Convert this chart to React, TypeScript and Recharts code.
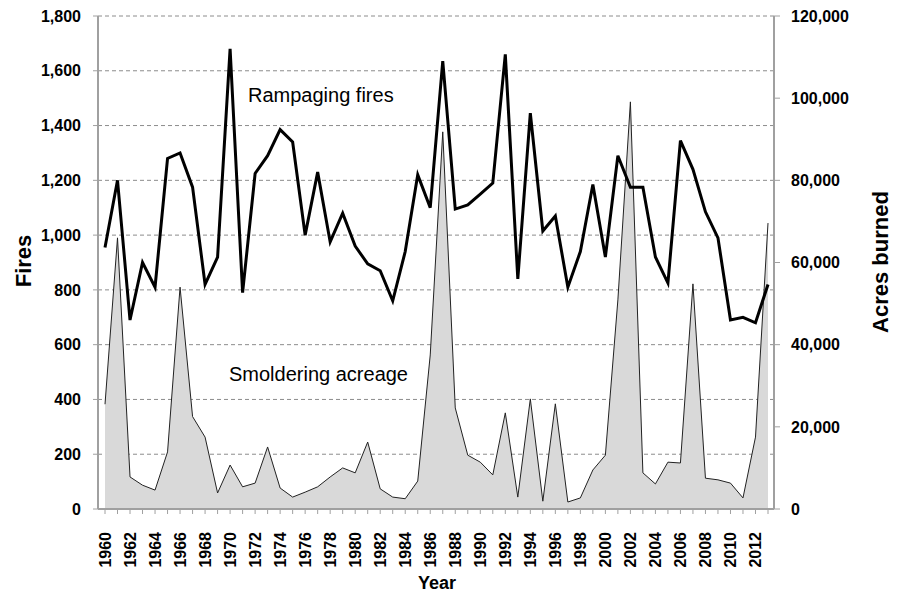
import { ComposedChart, Line, Area, XAxis, YAxis, CartesianGrid } from 'recharts';

const years = [
  1960, 1961, 1962, 1963, 1964, 1965, 1966, 1967, 1968, 1969,
  1970, 1971, 1972, 1973, 1974, 1975, 1976, 1977, 1978, 1979,
  1980, 1981, 1982, 1983, 1984, 1985, 1986, 1987, 1988, 1989,
  1990, 1991, 1992, 1993, 1994, 1995, 1996, 1997, 1998, 1999,
  2000, 2001, 2002, 2003, 2004, 2005, 2006, 2007, 2008, 2009,
  2010, 2011, 2012, 2013,
];

const fires = [
  955, 1200, 690, 900, 810, 1280, 1300, 1175, 820, 920,
  1680, 790, 1225, 1290, 1385, 1340, 1000, 1230, 975, 1080,
  960, 895, 870, 760, 940, 1220, 1100, 1635, 1095, 1110,
  1150, 1190, 1660, 840, 1445, 1015, 1070, 810, 940, 1185,
  920, 1290, 1175, 1175, 920, 825, 1345, 1240, 1085, 990,
  690, 700, 680, 820,
];

const acres = [
  25500, 66000, 7800, 5800, 4600, 13900, 54000, 22500, 17500, 3900,
  10700, 5400, 6300, 15100, 5100, 2900, 4100, 5400, 7800, 10000,
  8800, 16300, 4900, 2900, 2500, 6800, 37500, 91800, 24600, 13100,
  11400, 8300, 23400, 2900, 26800, 1900, 25600, 1700, 2700, 9500,
  13100, 50900, 99100, 8800, 6100, 11400, 11200, 54800, 7500, 7100,
  6300, 2700, 17500, 69600,
];

const fireTicks = [0, 200, 400, 600, 800, 1000, 1200, 1400, 1600, 1800];
const acreTicks = [0, 20000, 40000, 60000, 80000, 100000, 120000];

const data = years.map((y, i) => ({ year: y, fires: fires[i], acres: acres[i] }));

const fmt = (v: number) => v.toLocaleString('en-US');
const font = '"Liberation Sans", Arial, sans-serif';

function YearTick({ x, y, payload }: any) {
  const yr = payload.value as number;
  return (
    <g transform={`translate(${x},${y})`}>
      {yr % 2 === 0 && (
        <text
          transform="rotate(-90)"
          x={-16}
          y={0}
          dy="0.36em"
          textAnchor="end"
          fontFamily={font}
          fontSize={16}
          fontWeight="bold"
          fill="#000"
        >
          {yr}
        </text>
      )}
    </g>
  );
}

export default function App() {
  const tickStyle = { fill: '#000', fontSize: 16, fontWeight: 'bold', fontFamily: font };
  return (
    <div style={{ position: 'absolute', left: 0, top: 0, width: 898, height: 594, background: '#fff' }}>
      <ComposedChart width={898} height={594} data={data} margin={{ top: 16, right: 0, bottom: 0, left: 0 }}>
        <CartesianGrid yAxisId="left" vertical={false} strokeDasharray="4 3" stroke="#8c8c8c" />
        <XAxis
          dataKey="year"
          interval={0}
          height={85}
          padding={{ left: 7, right: 6 }}
          tick={<YearTick />}
          tickSize={5}
          tickLine={{ stroke: '#a0a0a0' }}
          axisLine={{ stroke: '#a0a0a0', strokeWidth: 2 }}
        />
        <YAxis
          yAxisId="left"
          width={98}
          domain={[0, 1800]}
          ticks={fireTicks}
          tickFormatter={fmt}
          tick={tickStyle}
          tickSize={5}
          tickMargin={12}
          tickLine={{ stroke: '#a0a0a0' }}
          axisLine={{ stroke: '#a0a0a0', strokeWidth: 2 }}
        />
        <YAxis
          yAxisId="right"
          orientation="right"
          width={124}
          domain={[0, 120000]}
          ticks={acreTicks}
          tickFormatter={fmt}
          tick={{ ...tickStyle, textAnchor: 'start' }}
          tickSize={6}
          tickMargin={11}
          tickLine={{ stroke: '#a0a0a0' }}
          axisLine={{ stroke: '#a0a0a0', strokeWidth: 2 }}
        />
        <Area
          yAxisId="right"
          type="linear"
          dataKey="acres"
          fill="#d9d9d9"
          fillOpacity={1}
          stroke="#222"
          strokeWidth={1}
          isAnimationActive={false}
        />
        <Line
          yAxisId="left"
          type="linear"
          dataKey="fires"
          stroke="#000"
          strokeWidth={3}
          dot={false}
          isAnimationActive={false}
        />
      </ComposedChart>
      <svg
        width={898}
        height={594}
        style={{ position: 'absolute', left: 0, top: 0, pointerEvents: 'none' }}
        fontFamily={font}
      >
        <text x={248} y={102} fontSize={20} fill="#000">Rampaging fires</text>
        <text x={229} y={381} fontSize={20} fill="#000">Smoldering acreage</text>
        <text x={437} y={589} fontSize={18} fontWeight="bold" textAnchor="middle" fill="#000">Year</text>
        <text
          transform="translate(31,261) rotate(-90)"
          fontSize={22}
          fontWeight="bold"
          textAnchor="middle"
          fill="#000"
        >
          Fires
        </text>
        <text
          transform="translate(888,262) rotate(-90)"
          fontSize={22}
          fontWeight="bold"
          textAnchor="middle"
          fill="#000"
        >
          Acres burned
        </text>
      </svg>
    </div>
  );
}
